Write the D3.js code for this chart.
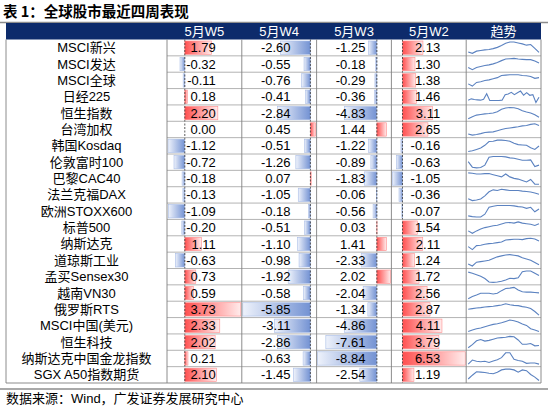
<!DOCTYPE html>
<html>
<head>
<meta charset="utf-8">
<script src="https://cdn.jsdelivr.net/npm/d3@7"></script>
<style>
  body { margin: 0; background: #fff; }
  text { font-family: 'Liberation Sans', Arial, 'Noto Sans CJK SC', sans-serif; }
</style>
</head>
<body>
<script>
var names = ['MSCI新兴', 'MSCI发达', 'MSCI全球', '日经225', '恒生指数', '台湾加权', '韩国Kosdaq',
  '伦敦富时100', '巴黎CAC40', '法兰克福DAX', '欧洲STOXX600', '标普500', '纳斯达克', '道琼斯工业',
  '孟买Sensex30', '越南VN30', '俄罗斯RTS', 'MSCI中国(美元)', '恒生科技', '纳斯达克中国金龙指数', 'SGX A50指数期货'];

var weeks = ['5月W5', '5月W4', '5月W3', '5月W2'];

var w5 = [1.79, -0.32, -0.11, 0.18, 2.20, 0.00, -1.12, -0.72, -0.18, -0.13, -1.09, -0.20, 1.11, -0.63, 0.73, 0.59, 3.73, 2.33, 2.02, 0.21, 2.10];
var w4 = [-2.60, -0.55, -0.76, -0.41, -2.84, 0.45, -0.51, -1.26, 0.07, -1.05, -0.18, -0.51, -1.10, -0.98, -1.92, -0.58, -5.85, -3.11, -2.86, -0.63, -1.45];
var w3 = [-1.25, -0.18, -0.29, -0.36, -4.83, 1.44, -1.22, -0.89, -1.83, -0.06, -0.56, 0.03, 1.41, -2.33, 2.02, -2.04, -1.34, -4.86, -7.61, -8.84, -2.54];
var w2 = [2.13, 1.30, 1.38, 1.46, 3.11, 2.65, -0.16, -0.63, -1.05, -0.36, -0.07, 1.54, 2.11, 1.24, 1.72, 2.56, 2.87, 4.11, 3.79, 6.53, 1.19];

// trend sparklines, relative levels (own scale per row)
var trends = [
  [12, 8, 15, 17, 19, 20, 23, 27, 33, 40, 44, 44, 41, 38, 34, 36, 24, 11],
  [18, 11, 18, 21, 24, 26, 29, 33, 39, 44, 45, 46, 44, 43, 42, 42, 38, 32],
  [21, 15, 25, 27, 30, 32, 35, 38, 44, 45, 46, 46, 46, 44, 43, 41, 36, 38],
  [21, 25, 23, 22, 21, 24, 41, 20, 20, 20, 20, 21, 38, 40, 45, 38, 44, 49, 36, 44, 36, 38, 14, 30],
  [11, 18, 23, 25, 27, 28, 30, 34, 42, 46, 48, 47, 44, 37, 33, 30, 24, 16],
  [16, 12, 14, 17, 21, 22, 23, 27, 31, 34, 36, 38, 40, 43, 44, 48, 50, 44],
  [16, 18, 22, 26, 34, 45, 46, 49, 49, 48, 46, 40, 36, 35, 34, 27, 22, 32],
  [33, 17, 15, 16, 23, 46, 48, 48, 48, 47, 44, 43, 40, 37, 37, 38, 19, 23],
  [50, 49, 47, 47, 48, 48, 45, 42, 39, 47, 39, 35, 33, 29, 25, 32, 19, 19],
  [25, 19, 21, 24, 34, 47, 53, 51, 55, 53, 51, 51, 51, 49, 48, 46, 43, 39],
  [23, 21, 20, 20, 28, 48, 51, 53, 53, 53, 53, 52, 50, 49, 45, 48, 35, 43],
  [25, 17, 25, 31, 36, 39, 42, 44, 48, 52, 53, 51, 55, 51, 49, 47, 43, 49],
  [30, 21, 33, 34, 37, 39, 40, 42, 44, 50, 51, 52, 52, 51, 54, 55, 53, 47],
  [27, 21, 33, 35, 37, 39, 45, 50, 53, 56, 57, 55, 53, 47, 43, 39, 32, 25],
  [51, 48, 44, 40, 34, 25, 24, 25, 27, 30, 35, 34, 36, 52, 54, 54, 48, 42],
  [26, 32, 36, 41, 41, 41, 39, 41, 48, 54, 55, 57, 50, 45, 44, 44, 43, 42],
  [44, 46, 48, 49, 51, 52, 53, 55, 57, 61, 58, 56, 55, 52, 50, 46, 37, 26],
  [24, 28, 32, 34, 38, 42, 45, 47, 50, 54, 58, 56, 52, 46, 42, 32, 28, 24],
  [24, 32, 42, 45, 41, 43, 46, 49, 50, 51, 53, 52, 44, 33, 33, 35, 29, 30],
  [34, 44, 41, 40, 41, 38, 42, 45, 50, 62, 62, 46, 43, 41, 36, 37, 37, 34],
  [32, 42, 51, 50, 49, 47, 46, 50, 56, 58, 58, 56, 50, 56, 54, 44, 37, 28]
];

var series = [w5, w4, w3, w2];

var svg = d3.select('body').append('svg')
    .attr('width', 550)
    .attr('height', 410);

var defs = svg.append('defs');
var pos = defs.append('linearGradient').attr('id', 'pos');
pos.append('stop').attr('offset', '0%').attr('stop-color', '#ff4f4f');
pos.append('stop').attr('offset', '100%').attr('stop-color', '#ffecec');
var neg = defs.append('linearGradient').attr('id', 'neg');
neg.append('stop').attr('offset', '0%').attr('stop-color', '#eef2fb');
neg.append('stop').attr('offset', '100%').attr('stop-color', '#7392d3');

var left = 6, labelRight = 167, right = 541;
var headTop = 23, headBottom = 39.5, bottom = 383;

var col = d3.scaleBand()
    .domain(weeks.concat(['趋势']))
    .range([labelRight, right]);

var row = d3.scaleBand()
    .domain(d3.range(names.length))
    .range([headBottom, bottom]);

// title
svg.append('text')
    .attr('x', 3).attr('y', 16.5)
    .style('font-family', "'Noto Sans CJK SC', sans-serif")
    .style('font-weight', 'bold')
    .style('font-size', '14.5px')
    .text('表 1：全球股市最近四周表现');

svg.append('line')
    .attr('x1', 0).attr('x2', 548).attr('y1', 22.5).attr('y2', 22.5)
    .attr('stroke', '#8c8c8c').attr('stroke-width', 1.5);

// header band
svg.append('rect')
    .attr('x', left).attr('y', headTop)
    .attr('width', right - left).attr('height', headBottom - headTop)
    .attr('fill', '#0d2b6b');

svg.selectAll('.head')
  .data(col.domain())
  .enter()
    .append('text')
    .attr('x', d => col(d) + col.bandwidth() / 2)
    .attr('y', (headTop + headBottom) / 2 + 5)
    .attr('text-anchor', 'middle')
    .attr('fill', '#fff')
    .style('font-size', '13px')
    .text(d => d);

// row labels
svg.selectAll('.label')
  .data(names)
  .enter()
    .append('text')
    .attr('x', (left + labelRight) / 2)
    .attr('y', (d, i) => row(i) + row.bandwidth() / 2 + 4.5)
    .attr('text-anchor', 'middle')
    .style('font-size', '13px')
    .text(d => d);

// data bars for each week column
series.forEach(function (vals, k) {
  var x0 = col(weeks[k]), bw = col.bandwidth();
  var x = d3.scaleLinear()
      .domain([Math.min(0, d3.min(vals)), Math.max(0, d3.max(vals))])
      .range([x0 + 1, x0 + bw - 1]);

  var g = svg.append('g');

  g.selectAll('rect')
    .data(vals)
    .enter()
      .append('rect')
      .attr('x', d => x(Math.min(0, d)))
      .attr('y', (d, i) => row(i) + 1.5)
      .attr('width', d => Math.abs(x(d) - x(0)))
      .attr('height', row.bandwidth() - 3)
      .attr('fill', d => d >= 0 ? 'url(#pos)' : 'url(#neg)')
      .attr('stroke', d => d >= 0 ? '#ff8c8c' : '#a9bde6')
      .attr('stroke-width', 0.6);

  g.append('line')
    .attr('x1', x(0)).attr('x2', x(0))
    .attr('y1', headBottom).attr('y2', bottom)
    .attr('stroke', '#333')
    .attr('stroke-width', 0.8)
    .attr('stroke-dasharray', '2,1.5');

  g.selectAll('text')
    .data(vals)
    .enter()
      .append('text')
      .attr('x', x0 + bw - 26)
      .attr('y', (d, i) => row(i) + row.bandwidth() / 2 + 4.6)
      .attr('text-anchor', 'end')
      .style('font-size', '13px')
      .text(d => d.toFixed(2));
});

// row separators in data and trend columns
svg.selectAll('.sep')
  .data(d3.range(1, names.length))
  .enter()
    .append('line')
    .attr('x1', labelRight).attr('x2', right)
    .attr('y1', i => row(i)).attr('y2', i => row(i))
    .attr('stroke', '#a0a0a0')
    .attr('stroke-width', 0.8);

// column borders
svg.selectAll('.vsep')
  .data([left, labelRight].concat(col.domain().slice(1).map(d => col(d)), [right]))
  .enter()
    .append('line')
    .attr('x1', d => d).attr('x2', d => d)
    .attr('y1', headBottom).attr('y2', bottom)
    .attr('stroke', '#808080')
    .attr('stroke-width', 0.9);

svg.append('line')
    .attr('x1', left).attr('x2', right).attr('y1', bottom).attr('y2', bottom)
    .attr('stroke', '#808080').attr('stroke-width', 0.9);

// sparklines
var tx0 = col('趋势'), tbw = col.bandwidth();
trends.forEach(function (pts, i) {
  var sx = d3.scaleLinear().domain([0, pts.length - 1]).range([tx0 + 2, tx0 + tbw - 2]);
  var sy = d3.scaleLinear().domain(d3.extent(pts)).range([row(i) + row.bandwidth() - 2.5, row(i) + 2.5]);
  svg.append('path')
    .attr('d', d3.line().x((d, j) => sx(j)).y(d => sy(d))(pts))
    .attr('fill', 'none')
    .attr('stroke', '#5b82c0')
    .attr('stroke-width', 1.1);
});

svg.append('line')
    .attr('x1', 0).attr('x2', 548).attr('y1', 389).attr('y2', 389)
    .attr('stroke', '#8c8c8c').attr('stroke-width', 1.5);

svg.append('text')
    .attr('x', 6).attr('y', 403)
    .style('font-size', '13px')
    .text('数据来源：Wind，广发证券发展研究中心');
</script>
</body>
</html>
